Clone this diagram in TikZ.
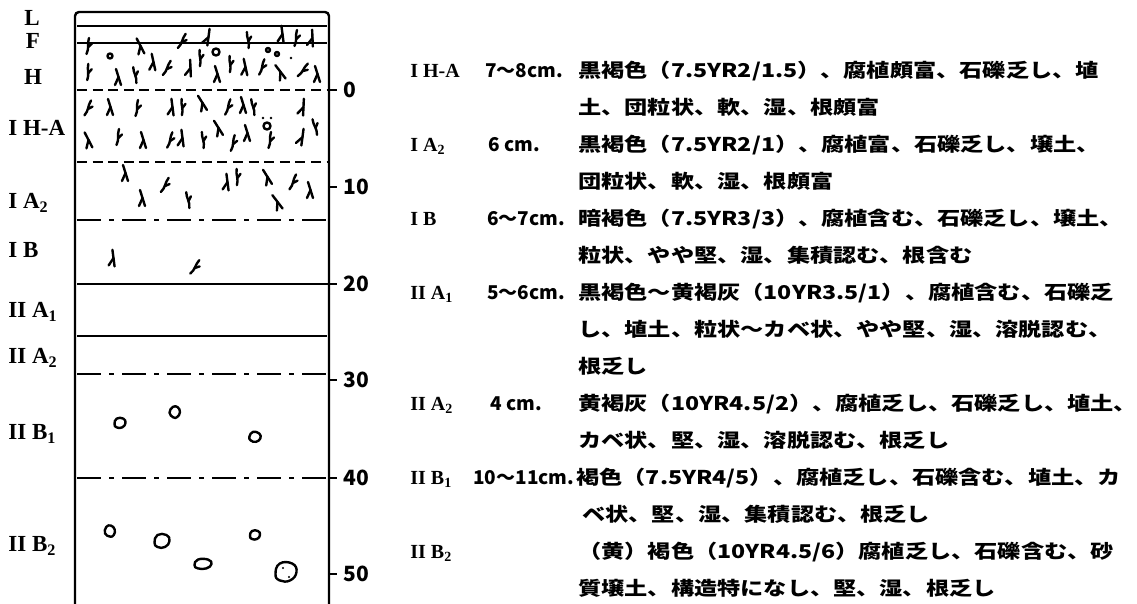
\documentclass[tikz,border=0pt]{standalone}
\usepackage{fontspec}
\setmainfont{Liberation Serif}
\newfontfamily\jpfont{Noto Sans CJK JP}[FakeStretch=1.22]
\newfontfamily\numfont{Noto Sans CJK JP}
\usetikzlibrary{positioning}

% description block: rows keep the baseline of the first one
\newcommand{\desc}[1]{\begin{tabular}[t]{@{}l@{}}#1\end{tabular}}

\tikzset{
  hzside/.style={font=\bfseries\fontsize{11.5}{13}\selectfont,inner sep=0pt},
  hzcode/.style={font=\bfseries\fontsize{10}{12}\selectfont,anchor=base west,inner sep=0pt},
  depthtxt/.style={font=\numfont\bfseries\fontsize{9.5}{12}\selectfont,anchor=base west,inner sep=0pt},
  desctxt/.style={font=\jpfont\bfseries\fontsize{9.5}{18.5}\selectfont,anchor=base west,inner sep=0pt},
  scalenum/.style={font=\numfont\bfseries\fontsize{10.5}{12}\selectfont,anchor=west,inner sep=0pt},
  horizon/.style={line width=0.8pt},
  dashline/.style={horizon,dash pattern=on 5pt off 2.8pt},
  dashdot/.style={horizon,dash pattern=on 12pt off 4pt on 2.5pt off 4pt},
  rootline/.style={line width=1.2pt,line cap=round,line join=round},
  rootlet/.pic={
    \draw[rootline] (-1.5,8) .. controls (1.5,2) and (-1,-2) .. (1,-8);
    \draw[rootline] (0.3,1) -- (4,-2.5);
  },
  rootfork/.pic={
    \draw[rootline] (-2,-8) -- (0.5,0) -- (3,8);
    \draw[rootline] (0.5,0) -- (-3,8);
  },
  pebble/.pic={
    \draw[rootline] plot[smooth cycle,tension=0.8]
      coordinates {(-5,1) (-3,-4) (3,-4) (5,0) (2,4) (-3,4)};
  },
}

\begin{document}
\begin{tikzpicture}[x=0.5pt,y=-0.5pt]
\path[fill=white,use as bounding box] (0,0) rectangle (1137,604);

% soil column
\draw[line width=1.2pt,rounded corners=2pt] (75,604) -- (75,12) -- (329,12) -- (329,604);
\draw[horizon] (77,26) -- (327,26);
\draw[horizon] (77,43) -- (327,43);
\draw[dashline] (77,90) -- (329,90);
\draw[dashline] (77,162) -- (327,162);
\draw[dashdot] (77,220) -- (327,220);
\draw[horizon] (77,284) -- (329,284);
\draw[horizon] (77,336) -- (327,336);
\draw[dashdot] (77,374) -- (327,374);
\draw[dashdot] (77,478) -- (327,478);

% depth scale (cm)
\foreach \d/\y in {0/90,10/187,20/284,30/380,40/478,50/574} {
  \draw[horizon] (329,\y) -- (337,\y);
  \node[scalenum] (depth\d) at (343,\y) {\d};
}

% roots
\foreach \x/\y/\a in {88/46/0,182/41/-20,248/40/15,296/38/0,
    88/72/5,135/75/20,167/68/-20,200/58/10,230/64/10,262/67/-10,303/70/-30,
    88/108/-15,137/108/0,182/107/10,228/107/-10,253/107/20,
    118/137/0,170/140/-10,203/140/15,233/143/-5,270/140/0,315/127/25,
    165/185/-20,237/177/10,293/182/-15,188/200/20,195/267/-25}
  \pic[rotate=\a] at (\x,\y) {rootlet};
\foreach \x/\y/\a in {140/46/10,208/37/-25,282/34/-10,312/38/-15,
    118/77/0,153/62/-5,190/68/-15,217/74/0,245/67/-5,280/72/20,317/74/0,
    110/107/0,172/107/-10,202/103/15,243/105/0,303/107/-20,
    88/140/10,143/140/0,182/138/-10,218/128/15,247/133/0,302/137/-25,
    125/173/0,227/182/-10,267/177/15,310/190/0,142/198/0,277/202/20,113/258/-10}
  \pic[rotate=\a] at (\x,\y) {rootfork};
\foreach \x/\y/\r in {110/56/2.5,216/52/3.5,268/50/2,277/54/2,267/126/3.5}
  \draw[rootline] (\x,\y) circle[radius=\r];
\foreach \x/\y in {291/58,263/118,271/118}
  \fill (\x,\y) circle[radius=1.3];

% gravels
\pic[scale=1.1] at (120,423) {pebble};
\pic[rotate=60,scale=1.1] at (175,412) {pebble};
\pic[rotate=-15,scale=1.1] at (255,437) {pebble};
\pic[rotate=80,scale=1.1] at (110,531) {pebble};
\pic[scale=1.5] at (162,541) {pebble};
\pic[xscale=1.7,yscale=1.1] at (203,564) {pebble};
\pic[scale=1] at (255,535) {pebble};
\pic[scale=2.1] at (286,572) {pebble};
\fill (283,568) circle[radius=1.2] (289,577) circle[radius=1.2];

% horizon names beside the column
\node[hzside] (sideL) at (32,18) {L};
\node[hzside] (sideF) at (33,41) {F};
\node[hzside] (sideH) at (33,77) {H};
\node[hzside,anchor=west] (sideIHA) at (8,128) {I H-A};
\node[hzside,anchor=west] (sideIA2) at (8,203) {I A\textsubscript{2}};
\node[hzside,anchor=west] (sideIB) at (8,250) {I B};
\node[hzside,anchor=west] (sideIIA1) at (8,312) {II A\textsubscript{1}};
\node[hzside,anchor=west] (sideIIA2) at (8,358) {II A\textsubscript{2}};
\node[hzside,anchor=west] (sideIIB1) at (8,434) {II B\textsubscript{1}};
\node[hzside,anchor=west] (sideIIB2) at (8,546) {II B\textsubscript{2}};

% horizon descriptions
\node[hzcode] (codeIHA) at (410,78) {I H-A};
\node[depthtxt] (thkIHA) at (485,78) {7～8cm.};
\node[desctxt] (descIHA) at (578,78) {\desc{黒褐色（7.5YR2/1.5）、腐植頗富、石礫乏し、埴\\
  土、団粒状、軟、湿、根頗富}};

\node[hzcode] (codeIA2) at (410,152) {I A\textsubscript{2}};
\node[depthtxt] (thkIA2) at (488,152) {6 cm.};
\node[desctxt] (descIA2) at (578,152) {\desc{黒褐色（7.5YR2/1）、腐植富、石礫乏し、壌土、\\
  団粒状、軟、湿、根頗富}};

\node[hzcode] (codeIB) at (410,226) {I B};
\node[depthtxt] (thkIB) at (487,226) {6～7cm.};
\node[desctxt] (descIB) at (578,226) {\desc{暗褐色（7.5YR3/3）、腐植含む、石礫乏し、壌土、\\
  粒状、やや堅、湿、集積認む、根含む}};

\node[hzcode] (codeIIA1) at (410,300) {II A\textsubscript{1}};
\node[depthtxt] (thkIIA1) at (487,300) {5～6cm.};
\node[desctxt] (descIIA1) at (578,300) {\desc{黒褐色～黄褐灰（10YR3.5/1）、腐植含む、石礫乏\\
  し、埴土、粒状～カベ状、やや堅、湿、溶脱認む、\\
  根乏し}};

\node[hzcode] (codeIIA2) at (410,411) {II A\textsubscript{2}};
\node[depthtxt] (thkIIA2) at (490,411) {4 cm.};
\node[desctxt] (descIIA2) at (578,411) {\desc{黄褐灰（10YR4.5/2）、腐植乏し、石礫乏し、埴土、\\
  カベ状、堅、湿、溶脱認む、根乏し}};

\node[hzcode] (codeIIB1) at (410,485) {II B\textsubscript{1}};
\node[depthtxt] (thkIIB1) at (473,485) {10～11cm.};
\node[desctxt] (descIIB1) at (576,485) {\desc{褐色（7.5YR4/5）、腐植乏し、石礫含む、埴土、カ\\
  \hspace{3pt}ベ状、堅、湿、集積認む、根乏し}};

\node[hzcode] (codeIIB2) at (410,559) {II B\textsubscript{2}};
\node[desctxt] (descIIB2) at (578,559) {\desc{（黄）褐色（10YR4.5/6）腐植乏し、石礫含む、砂\\
  質壌土、構造特になし、堅、湿、根乏し}};
\end{tikzpicture}
\end{document}
